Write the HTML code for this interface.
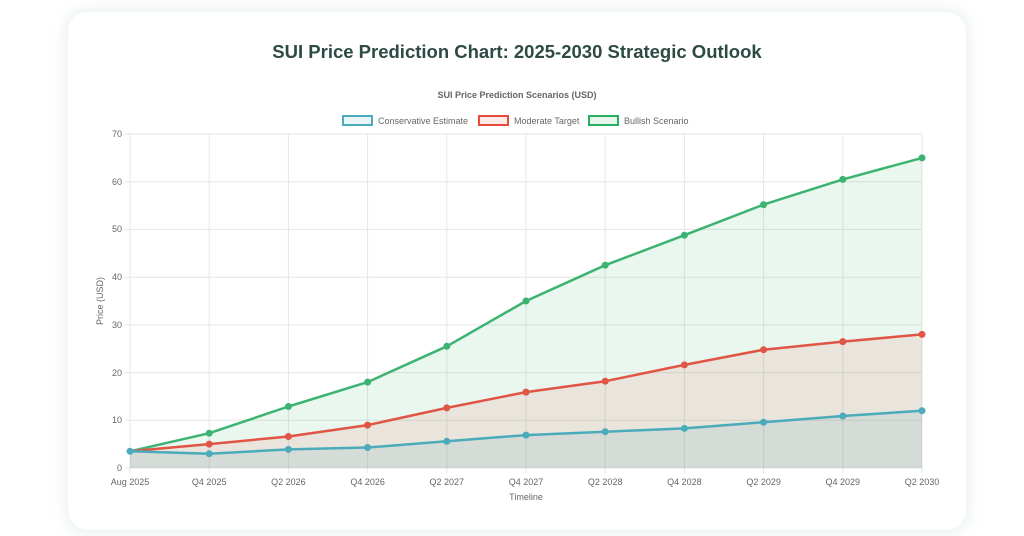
<!DOCTYPE html>
<html><head><meta charset="utf-8"><style>
body{margin:0;width:1024px;height:536px;background:#fff;font-family:"Liberation Sans",sans-serif;overflow:hidden;position:relative}
.card{position:absolute;left:68px;top:12px;width:898px;height:518px;background:#fff;border-radius:20px;box-shadow:0 0 12px 4px rgba(200,220,215,0.35)}
</style></head><body>
<div class="card"></div>
<svg width="1024" height="536" style="position:absolute;left:0;top:0" font-family="Liberation Sans, sans-serif">
<text x="517" y="58" text-anchor="middle" font-size="18.5" font-weight="bold" fill="#2d4a44">SUI Price Prediction Chart: 2025-2030 Strategic Outlook</text>
<text x="517" y="98" text-anchor="middle" font-size="9" font-weight="bold" fill="#666">SUI Price Prediction Scenarios (USD)</text>
<g font-size="9" fill="#666">
<rect x="343" y="116" width="29" height="9" fill="#e8f4f6" stroke="#4aacbb" stroke-width="2"/><text x="378" y="124">Conservative Estimate</text>
<rect x="479" y="116" width="29" height="9" fill="#fcebe9" stroke="#e74c3c" stroke-width="2"/><text x="514" y="124">Moderate Target</text>
<rect x="589" y="116" width="29" height="9" fill="#e7f5ec" stroke="#27ae60" stroke-width="2"/><text x="624" y="124">Bullish Scenario</text>
</g>
<g stroke="#e6e6e6" stroke-width="1">
<line x1="125" y1="468" x2="922" y2="468"/><line x1="125" y1="420.3" x2="922" y2="420.3"/><line x1="125" y1="372.6" x2="922" y2="372.6"/><line x1="125" y1="324.9" x2="922" y2="324.9"/><line x1="125" y1="277.2" x2="922" y2="277.2"/><line x1="125" y1="229.4" x2="922" y2="229.4"/><line x1="125" y1="181.7" x2="922" y2="181.7"/><line x1="125" y1="134" x2="922" y2="134"/>
<line x1="130" y1="134" x2="130" y2="473"/><line x1="209.2" y1="134" x2="209.2" y2="473"/><line x1="288.4" y1="134" x2="288.4" y2="473"/><line x1="367.6" y1="134" x2="367.6" y2="473"/><line x1="446.8" y1="134" x2="446.8" y2="473"/><line x1="526" y1="134" x2="526" y2="473"/><line x1="605.2" y1="134" x2="605.2" y2="473"/><line x1="684.4" y1="134" x2="684.4" y2="473"/><line x1="763.6" y1="134" x2="763.6" y2="473"/><line x1="842.8" y1="134" x2="842.8" y2="473"/><line x1="922" y1="134" x2="922" y2="473"/>
</g>
<g font-size="9" fill="#666" text-anchor="end">
<text x="122" y="471">0</text><text x="122" y="423">10</text><text x="122" y="376">20</text><text x="122" y="328">30</text><text x="122" y="280">40</text><text x="122" y="232">50</text><text x="122" y="185">60</text><text x="122" y="137">70</text>
</g>
<g font-size="9" fill="#666" text-anchor="middle">
<text x="130" y="485">Aug 2025</text><text x="209.2" y="485">Q4 2025</text><text x="288.4" y="485">Q2 2026</text><text x="367.6" y="485">Q4 2026</text><text x="446.8" y="485">Q2 2027</text><text x="526" y="485">Q4 2027</text><text x="605.2" y="485">Q2 2028</text><text x="684.4" y="485">Q4 2028</text><text x="763.6" y="485">Q2 2029</text><text x="842.8" y="485">Q4 2029</text><text x="922" y="485">Q2 2030</text>
<text x="526" y="500">Timeline</text>
<text transform="translate(103,301) rotate(-90)">Price (USD)</text>
</g>
<polygon fill="rgba(39,174,96,0.1)" points="130,468 130,451.3 209.2,433.2 288.4,406.5 367.6,382.1 446.8,346.3 526,301 605.2,265.2 684.4,235.2 763.6,204.6 842.8,179.4 922,157.9 922,468"/>
<polygon fill="rgba(231,76,60,0.1)" points="130,468 130,451.3 209.2,444.1 288.4,436.5 367.6,425.1 446.8,407.9 526,392.1 605.2,381.2 684.4,364.9 763.6,349.7 842.8,341.6 922,334.4 922,468"/>
<polygon fill="rgba(74,150,170,0.12)" points="130,468 130,451.3 209.2,453.7 288.4,449.4 367.6,447.5 446.8,441.3 526,435.1 605.2,431.7 684.4,428.4 763.6,422.2 842.8,416 922,410.7 922,468"/>
<g fill="none" stroke-width="2.5" stroke-linejoin="round">
<polyline stroke="#3cb371" points="130,451.3 209.2,433.2 288.4,406.5 367.6,382.1 446.8,346.3 526,301 605.2,265.2 684.4,235.2 763.6,204.6 842.8,179.4 922,157.9"/>
<polyline stroke="#e05545" points="130,451.3 209.2,444.1 288.4,436.5 367.6,425.1 446.8,407.9 526,392.1 605.2,381.2 684.4,364.9 763.6,349.7 842.8,341.6 922,334.4"/>
<polyline stroke="#4aacbb" points="130,451.3 209.2,453.7 288.4,449.4 367.6,447.5 446.8,441.3 526,435.1 605.2,431.7 684.4,428.4 763.6,422.2 842.8,416 922,410.7"/>
</g>
<g fill="#3cb371"><circle cx="209.2" cy="433.2" r="3.5"/><circle cx="288.4" cy="406.5" r="3.5"/><circle cx="367.6" cy="382.1" r="3.5"/><circle cx="446.8" cy="346.3" r="3.5"/><circle cx="526" cy="301" r="3.5"/><circle cx="605.2" cy="265.2" r="3.5"/><circle cx="684.4" cy="235.2" r="3.5"/><circle cx="763.6" cy="204.6" r="3.5"/><circle cx="842.8" cy="179.4" r="3.5"/><circle cx="922" cy="157.9" r="3.5"/></g>
<g fill="#e05545"><circle cx="209.2" cy="444.1" r="3.5"/><circle cx="288.4" cy="436.5" r="3.5"/><circle cx="367.6" cy="425.1" r="3.5"/><circle cx="446.8" cy="407.9" r="3.5"/><circle cx="526" cy="392.1" r="3.5"/><circle cx="605.2" cy="381.2" r="3.5"/><circle cx="684.4" cy="364.9" r="3.5"/><circle cx="763.6" cy="349.7" r="3.5"/><circle cx="842.8" cy="341.6" r="3.5"/><circle cx="922" cy="334.4" r="3.5"/></g>
<g fill="#4aacbb"><circle cx="130" cy="451.3" r="3.5"/><circle cx="209.2" cy="453.7" r="3.5"/><circle cx="288.4" cy="449.4" r="3.5"/><circle cx="367.6" cy="447.5" r="3.5"/><circle cx="446.8" cy="441.3" r="3.5"/><circle cx="526" cy="435.1" r="3.5"/><circle cx="605.2" cy="431.7" r="3.5"/><circle cx="684.4" cy="428.4" r="3.5"/><circle cx="763.6" cy="422.2" r="3.5"/><circle cx="842.8" cy="416" r="3.5"/><circle cx="922" cy="410.7" r="3.5"/></g>
</svg>
</body></html>
